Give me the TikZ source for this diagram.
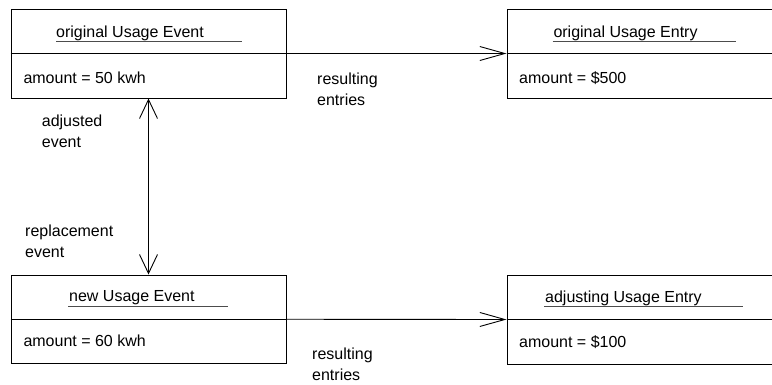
\documentclass[tikz,border=0pt]{standalone}
\usepackage{fontspec}
\setmainfont{Liberation Sans}
\usetikzlibrary{arrows.meta}
\begin{document}
\begin{tikzpicture}[x=1pt,y=-1pt,
  lbl/.style={inner sep=0pt, anchor=base west, font=\fontsize{16}{21.5}\selectfont},
  boxnode/.style={draw=black, line width=1pt, inner sep=0pt, minimum height=89pt},
  divline/.style={draw=black, line width=1pt},
  uline/.style={draw=black!70, line width=0.9pt},
  conn/.style={draw=black, line width=0.9pt},
  harr/.style={-{Straight Barb[length=25pt,width=14pt]}},
  varr/.style={{Straight Barb[length=19pt,width=18pt]}-{Straight Barb[length=19pt,width=18pt]}}
]
\useasboundingbox (0,0) rectangle (772,384);
\clip (0,0) rectangle (772,384);

% boxes
\node[boxnode, minimum width=275pt] (ue) at (148.5,53.5) {};
\node[boxnode, minimum width=283pt] (oe) at (648.5,53.5) {};
\node[boxnode, minimum width=275pt, minimum height=88.5pt] (ne) at (148.5,319.25) {};
\node[boxnode, minimum width=283pt] (ae) at (648.5,319.5) {};

% dividers
\draw[divline] (ue.west) -- (ue.east);
\draw[divline] (oe.west) -- (oe.east);
\draw[divline] (ne.west) -- (ne.east);
\draw[divline] (ae.west) -- (ae.east);

% titles and attributes
\node[lbl] (tA) at (56,37.3) {original Usage Event};
\draw[uline] ([yshift=-4.4pt]tA.base west) -- ++(186,0);
\node[lbl] (aA) at (23.3,83.5) {amount = 50 kwh};

\node[lbl] (tB) at (553.3,37.3) {original Usage Entry};
\draw[uline] ([yshift=-4pt,xshift=-0.6pt]tB.base west) -- ++(183,0);
\node[lbl] (aB) at (519,83.5) {amount = \$500};

\node[lbl] (tC) at (69,301.7) {new Usage Event};
\draw[uline] ([yshift=-5pt,xshift=-1pt]tC.base west) -- ++(160,0);
\node[lbl] (aC) at (23.3,346.8) {amount = 60 kwh};

\node[lbl] (tD) at (545,302.5) {adjusting Usage Entry};
\draw[uline] ([yshift=-4.2pt,xshift=-1pt]tD.base west) -- ++(199,0);
\node[lbl] (aD) at (519,347) {amount = \$100};

% connectors
\draw[conn,harr] (ue.east) -- (oe.west);
\draw[conn,harr] (ne.east) -- (ae.west);
\draw[conn,varr] (ue.south) -- (ne.north);

% connector labels
\node[lbl] (l1) at (317,84) {\begin{tabular}[t]{@{}l@{}}resulting\\entries\end{tabular}};
\node[lbl] (l2) at (312,359) {\begin{tabular}[t]{@{}l@{}}resulting\\entries\end{tabular}};
\node[lbl] (l3) at (41.7,126) {\begin{tabular}[t]{@{}l@{}}adjusted\\event\end{tabular}};
\node[lbl] (l4) at (25,236) {\begin{tabular}[t]{@{}l@{}}replacement\\event\end{tabular}};
\end{tikzpicture}
\end{document}
